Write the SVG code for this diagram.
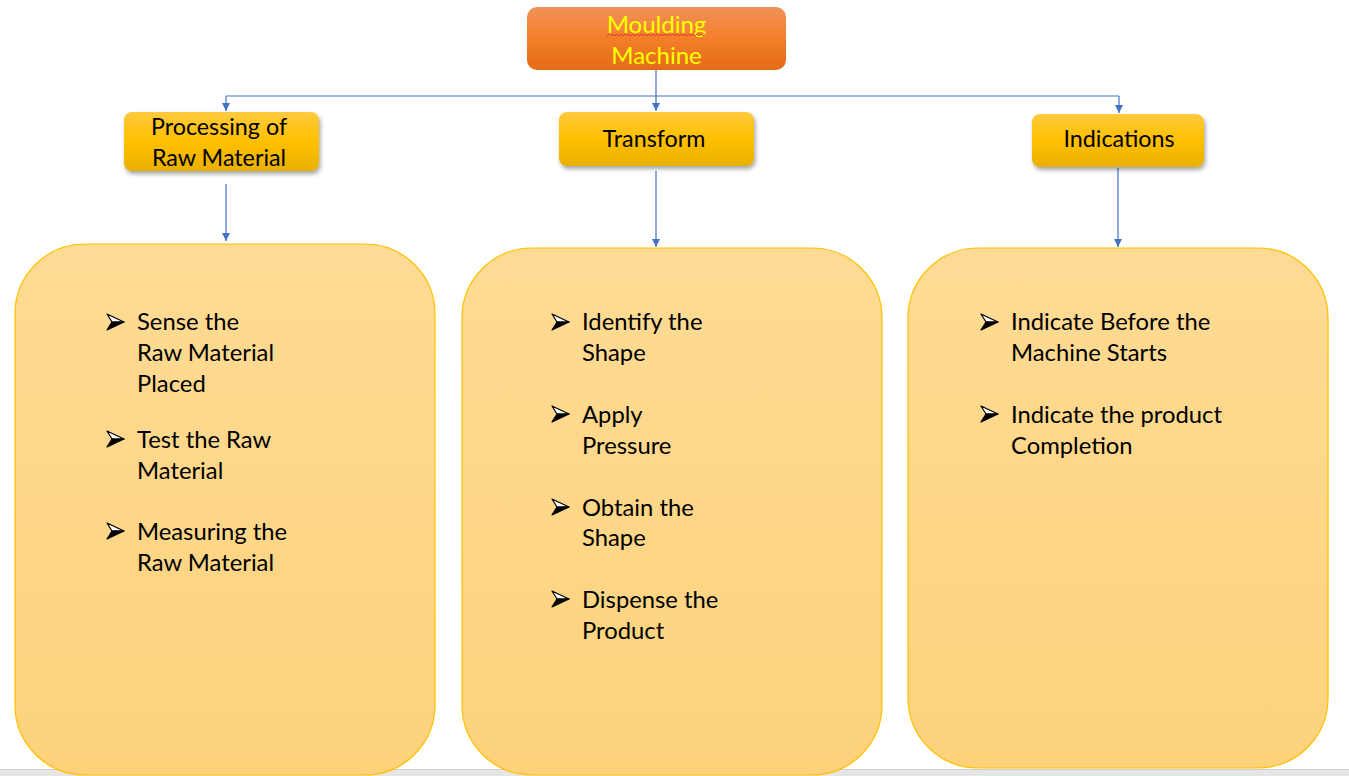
<svg xmlns="http://www.w3.org/2000/svg" width="1349" height="776" viewBox="0 0 1349 776">
<style>
.t{font-family:Lato,"Open Sans","Liberation Sans",sans-serif;}
.hdr{font-size:23.3px;fill:#000;text-anchor:middle;}
.top{font-size:24px;fill:#ffff00;text-anchor:middle;}
.bl{font-size:23.8px;fill:#000;}
.big{fill:url(#gBig);stroke:#ffc000;stroke-width:1.2;}
.lvl{fill:url(#gGold);filter:url(#sh);}
.con{stroke:#4472c4;stroke-width:1.2;fill:none;}
</style>
<defs>
<linearGradient id="gOr" x1="0" y1="0" x2="0" y2="1">
<stop offset="0" stop-color="#f0925a"/><stop offset="0.5" stop-color="#f47e2a"/><stop offset="1" stop-color="#e46b18"/>
</linearGradient>
<linearGradient id="gGold" x1="0" y1="0" x2="0" y2="1">
<stop offset="0" stop-color="#ffc93f"/><stop offset="0.5" stop-color="#ffc000"/><stop offset="1" stop-color="#e8b000"/>
</linearGradient>
<linearGradient id="gBig" x1="0" y1="0" x2="0" y2="1">
<stop offset="0" stop-color="#fedb95"/><stop offset="1" stop-color="#fdd27b"/>
</linearGradient>
<filter id="sh" x="-10%" y="-20%" width="125%" height="150%">
<feDropShadow dx="1.5" dy="3" stdDeviation="2.2" flood-color="#000" flood-opacity="0.35"/>
</filter>
<marker id="ah" viewBox="0 0 10 10" refX="10" refY="5" markerWidth="8" markerHeight="8" markerUnits="userSpaceOnUse" orient="auto">
<path d="M0,0 L10,5 L0,10 z" fill="#4472c4"/>
</marker>
<g id="bul">
<path d="M0,-8 L17,0 L5,0 z" fill="#fff" stroke="#000" stroke-width="1.2" stroke-linejoin="round"/>
<path d="M0,8 L17,0 L5,0 z" fill="#000" stroke="#000" stroke-width="1.2" stroke-linejoin="round"/>
</g>
</defs>
<rect x="0" y="769" width="1349" height="7" fill="#e6e6e6"/>
<line x1="0" y1="769.5" x2="1349" y2="769.5" stroke="#cfcfcf" stroke-width="1"/>

<g id="connectors">
<line class="con" x1="656" y1="70" x2="656" y2="111" marker-end="url(#ah)"/>
<line class="con" x1="226" y1="96" x2="1119" y2="96"/>
<line class="con" x1="226" y1="96" x2="226" y2="111" marker-end="url(#ah)"/>
<line class="con" x1="1119" y1="96" x2="1119" y2="113" marker-end="url(#ah)"/>
<line class="con" x1="226" y1="184" x2="226" y2="241" marker-end="url(#ah)"/>
<line class="con" x1="656" y1="171" x2="656" y2="247" marker-end="url(#ah)"/>
<line class="con" x1="1118" y1="168" x2="1118" y2="247" marker-end="url(#ah)"/>
</g>

<g id="moulding">
<rect x="527" y="7" width="259" height="63" rx="10" fill="url(#gOr)"/>
<text class="t top" x="656.5" y="33">Moulding</text>
<path d="M607,36 l2,-2 l2,2 l2,-2 l2,2 l2,-2 l2,2 l2,-2 l2,2 l2,-2 l2,2 l2,-2 l2,2 l2,-2 l2,2 l2,-2 l2,2 l2,-2 l2,2 l2,-2 l2,2 l2,-2 l2,2 l2,-2 l2,2 l2,-2 l2,2 l2,-2 l2,2 l2,-2 l2,2 l2,-2 l2,2 l2,-2 l2,2 l2,-2 l2,2 l2,-2 l2,2 l2,-2 l2,2 l2,-2 l2,2 l2,-2 l2,2 l2,-2 l2,2 l2,-2 l2,2 l2,-2" fill="none" stroke="#e03030" stroke-width="0.8"/>
<text class="t top" x="656.5" y="64">Machine</text>
</g>

<g id="processing">
<rect class="lvl" x="124" y="112" width="195" height="59" rx="8"/>
<text class="t hdr" x="219" y="135">Processing of</text>
<text class="t hdr" x="219" y="166">Raw Material</text>
</g>
<g id="transform">
<rect class="lvl" x="559" y="112" width="195" height="54" rx="8"/>
<text class="t hdr" x="654" y="147">Transform</text>
</g>
<g id="indications">
<rect class="lvl" x="1032" y="114" width="172" height="53" rx="8"/>
<text class="t hdr" x="1119" y="147">Indications</text>
</g>

<g id="box-processing">
<rect class="big" x="15" y="244" width="420" height="531" rx="70"/>
<use href="#bul" x="107" y="322"/>
<text class="t bl" x="137" y="330">Sense the</text>
<text class="t bl" x="137" y="361">Raw Material</text>
<text class="t bl" x="137" y="392">Placed</text>
<use href="#bul" x="107" y="439"/>
<text class="t bl" x="137" y="448">Test the Raw</text>
<text class="t bl" x="137" y="479">Material</text>
<use href="#bul" x="107" y="531"/>
<text class="t bl" x="137" y="540">Measuring the</text>
<text class="t bl" x="137" y="571">Raw Material</text>
</g>

<g id="box-transform">
<rect class="big" x="462" y="248" width="420" height="527" rx="70"/>
<use href="#bul" x="552" y="322"/>
<text class="t bl" x="582" y="330">Identify the</text>
<text class="t bl" x="582" y="361">Shape</text>
<use href="#bul" x="552" y="414"/>
<text class="t bl" x="582" y="423">Apply</text>
<text class="t bl" x="582" y="454">Pressure</text>
<use href="#bul" x="552" y="507"/>
<text class="t bl" x="582" y="516">Obtain the</text>
<text class="t bl" x="582" y="546">Shape</text>
<use href="#bul" x="552" y="599"/>
<text class="t bl" x="582" y="608">Dispense the</text>
<text class="t bl" x="582" y="639">Product</text>
</g>

<g id="box-indications">
<rect class="big" x="908" y="248" width="420" height="520" rx="70"/>
<use href="#bul" x="981" y="322"/>
<text class="t bl" x="1011" y="330">Indicate Before the</text>
<text class="t bl" x="1011" y="361">Machine Starts</text>
<use href="#bul" x="981" y="414"/>
<text class="t bl" x="1011" y="423">Indicate the product</text>
<text class="t bl" x="1011" y="454">Completion</text>
</g>
</svg>
